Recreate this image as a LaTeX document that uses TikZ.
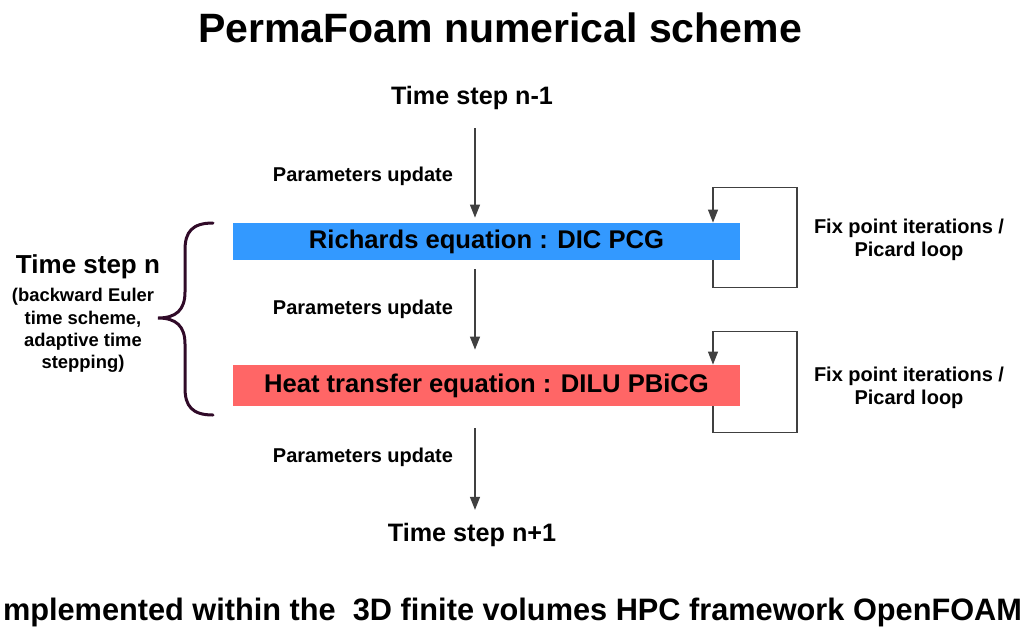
\documentclass[tikz,border=0pt]{standalone}
\usepackage{fontspec}
\setmainfont{Liberation Sans}
\usepackage{graphicx}
\usetikzlibrary{arrows.meta}
\definecolor{richblue}{HTML}{3399FF}
\definecolor{heatred}{HTML}{FF6666}
\definecolor{braceplum}{RGB}{48,10,40}
\tikzset{flow/.style={draw=black!75, line width=0.6pt,
           -{Triangle[length=6.5pt,width=5pt]}},
         eqbox/.style={fill=#1, minimum width=253.5pt, inner sep=0pt,
           font=\bfseries\fontsize{12.8}{15}\selectfont},
         steplabel/.style={inner sep=0pt, font=\bfseries\fontsize{12.6}{15}\selectfont},
         smalllabel/.style={inner sep=0pt, align=center,
           font=\bfseries\fontsize{10}{11.5}\selectfont}}

\begin{document}
\begin{tikzpicture}[x=0.5pt,y=-0.5pt]
\useasboundingbox (0,0) rectangle (1026,633);
% Titel und Zeitschritte:
\node[inner sep=0pt, font=\bfseries\fontsize{20.5}{24}\selectfont] (title) at (500,28) {PermaFoam numerical scheme};
\node[steplabel] (prev) at (472,98) {Time step n-1};
\node[steplabel] (next) at (472,535) {Time step n+1};
% Die Gleichungen:
\node[eqbox=richblue, minimum height=18.5pt] (richards) at (486.5,241.5) {Richards equation : DIC PCG};
\node[eqbox=heatred, minimum height=20.5pt] (heat) at (486.5,385.5) {Heat transfer equation : DILU PBiCG};
\coordinate (spine) at (475,0);
\coordinate (loopx) at (713,0);
% Parameter-Updates:
\draw[flow, shorten <=9pt, shorten >=2.5pt] (prev.south -| spine) -- (richards.north -| spine);
\draw[flow, shorten <=4.5pt, shorten >=7.5pt] (richards.south -| spine) -- (heat.north -| spine);
\draw[flow, shorten <=11pt, shorten >=6.5pt] (heat.south -| spine) -- (next.north -| spine);
\foreach \y/\nm in {176/upd1,309/upd2,457/upd3}
  \node[smalllabel] (\nm) at (363,\y) {Parameters update};
% Picard-Schleifen:
\draw[flow] (richards.south -| loopx) -- ++(0,27) -- ++(84,0) -- ++(0,-100) -| (richards.north -| loopx);
\draw[flow] (heat.south -| loopx) -- ++(0,26) -- ++(84,0) -- ++(0,-101) -| (heat.north -| loopx);
\node[smalllabel] (fix1) at (909,239.5) {Fix point iterations /\\Picard loop};
\node[smalllabel] (fix2) at (909,388) {Fix point iterations /\\Picard loop};
% Zeitschritt n mit Klammer:
\node[steplabel, font=\bfseries\fontsize{13}{15}\selectfont] (stepn) at (88,267) {Time step n};
\node[inner sep=0pt, align=center, font=\bfseries\fontsize{9.2}{11.15}\selectfont] (stepnote) at (83,330.5)
  {(backward Euler\\time scheme,\\adaptive time\\stepping)};
\draw[braceplum, line width=1.5pt, line cap=round]
  (213,223) .. controls (192,223) and (185,232) .. (185,250) -- (185,292)
  .. controls (185,310) and (176,318) .. (158,318)
  .. controls (176,318) and (185,326) .. (185,344) -- (185,388)
  .. controls (185,406) and (192,415) .. (213,415);
% Fusszeile:
\node[inner sep=0pt, font=\bfseries\fontsize{15.5}{18}\selectfont] (footer) at (512.5,612)
  {\resizebox{509.5pt}{\height}{mplemented within the\ \ 3D finite volumes HPC framework OpenFOAM}};
\end{tikzpicture}
\end{document}
